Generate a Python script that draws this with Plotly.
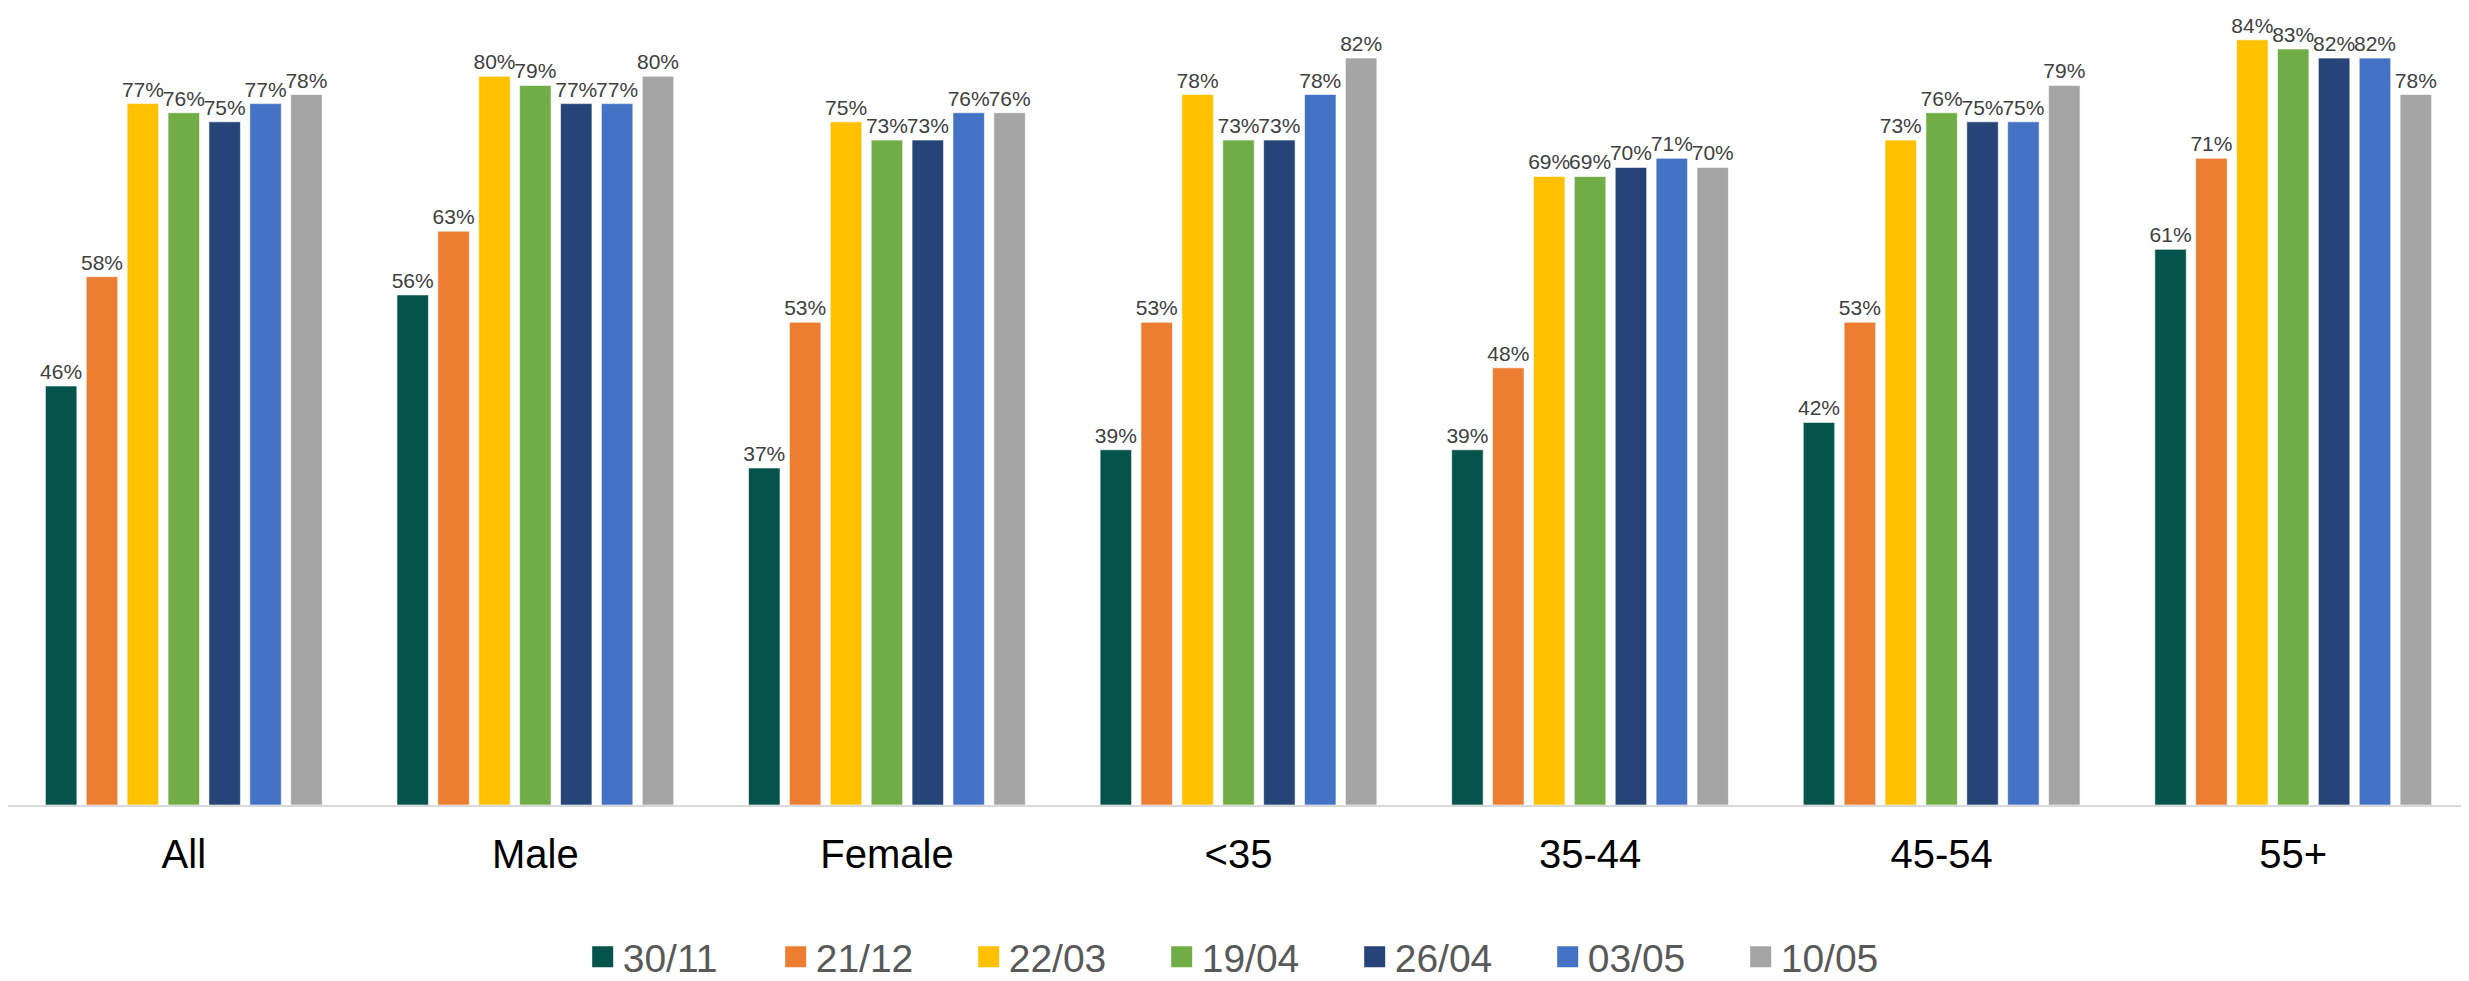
import plotly.graph_objects as go

categories = ["All", "Male", "Female", "<35", "35-44", "45-54", "55+"]
series_names = ["30/11", "21/12", "22/03", "19/04", "26/04", "03/05", "10/05"]
colors = ["#04544B", "#ED7D31", "#FFC000", "#70AD47", "#264478", "#4472C4", "#A5A5A5"]

s_30_11 = [46, 56, 37, 39, 39, 42, 61]
s_21_12 = [58, 63, 53, 53, 48, 53, 71]
s_22_03 = [77, 80, 75, 78, 69, 73, 84]
s_19_04 = [76, 79, 73, 73, 69, 76, 83]
s_26_04 = [75, 77, 73, 73, 70, 75, 82]
s_03_05 = [77, 77, 76, 78, 71, 75, 82]
s_10_05 = [78, 80, 76, 82, 70, 79, 78]

series_values = [s_30_11, s_21_12, s_22_03, s_19_04, s_26_04, s_03_05, s_10_05]

fig = go.Figure()
for name, vals, col in zip(series_names, series_values, colors):
    fig.add_trace(go.Bar(
        name=name,
        x=categories,
        y=vals,
        showlegend=False,
        legendgroup=name,
        marker=dict(color=col, line=dict(color="rgba(255,255,255,0.6)", width=1)),
        text=[f"{v}%" for v in vals],
        textposition="outside",
        textfont=dict(family="Liberation Sans, Arial, sans-serif", size=21, color="#404040"),
        constraintext="none",
        cliponaxis=False,
    ))

# legend-only entries with larger square swatches
for name, col in zip(series_names, colors):
    fig.add_trace(go.Scatter(
        name=name,
        x=[None],
        y=[None],
        mode="markers",
        legendgroup=name,
        showlegend=True,
        marker=dict(symbol="square", size=16, color=col, line=dict(color=col, width=5)),
        hoverinfo="skip",
    ))

fig.update_layout(
    width=2469,
    height=981,
    margin=dict(l=0, r=8, t=10, b=178),
    paper_bgcolor="white",
    plot_bgcolor="white",
    barmode="group",
    bargap=0.186,
    bargroupgap=0.23,
    font=dict(family="Liberation Sans, Arial, sans-serif"),
    showlegend=True,
    legend=dict(
        orientation="h",
        x=0.508,
        xanchor="center",
        y=-0.193,
        yanchor="middle",
        font=dict(size=39, color="#595959"),
        entrywidth=148,
        entrywidthmode="pixels",
        traceorder="normal",
    ),
    xaxis=dict(
        showline=True,
        linecolor="#D9D9D9",
        linewidth=2,
        showgrid=False,
        ticks="",
        tickfont=dict(size=40, color="#000000"),
        ticklabelstandoff=13,
        zeroline=False,
    ),
    yaxis=dict(
        range=[0, 86.4],
        visible=False,
        showgrid=False,
        zeroline=False,
    ),
)

fig.write_html("out.html")
